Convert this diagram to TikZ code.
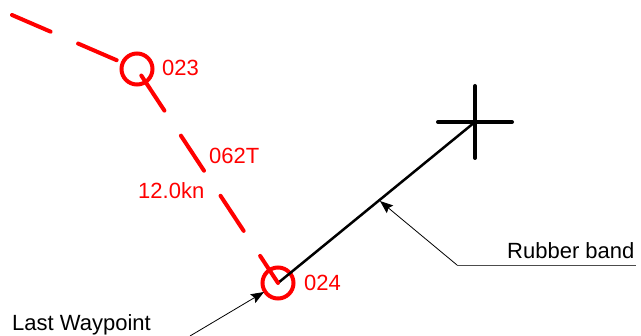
\documentclass[tikz,border=0pt]{standalone}
\usepackage{fontspec}
\setmainfont{Liberation Sans}
\usetikzlibrary{arrows.meta}
\definecolor{wpred}{RGB}{255,0,0}
\begin{document}
\begin{tikzpicture}[x=1pt,y=-1pt,
  wp/.style={circle,draw=wpred,line width=4pt,minimum size=31pt,inner sep=0pt},
  route/.style={draw=wpred,line width=4pt,line cap=round,dash pattern=on 42pt off 30pt},
  lbl/.style={anchor=base west,inner sep=0pt,font=\fontsize{22}{26}\selectfont},
  redlbl/.style={lbl,text=wpred},
  crossbar/.style={line width=4pt,line cap=round},
  leader/.style={line width=0.8pt,-{Stealth[length=13pt,width=10pt,inset=2pt]}}]
\useasboundingbox (0,0) rectangle (641,336);
% waypoints
\node[wp] (wp23) at (137,69) {};
\node[wp] (wp24) at (278,283) {};
\coordinate (start) at (12,15);
% rubber band
\coordinate (cur) at (475,122);
\draw[line width=2.5pt] (wp24.center) -- (cur);
\coordinate (cl) at (438,122);
\coordinate (cr) at (512,122);
\coordinate (ct) at (475,86);
\coordinate (cb) at (475,158);
\draw[crossbar] (cl) -- (cr);
\draw[crossbar] (ct) -- (cb);
% route
\draw[route] (start) -- (wp23.center) -- (wp24.center);
% labels
\node[redlbl] (t23) at (162,76) {023};
\node[redlbl] (t62) at (209,164) {062T};
\node[redlbl] (tkn) at (138,199) {12.0kn};
\node[redlbl] (t24) at (304,291) {024};
\node[lbl] (tlast) at (12,331) {Last Waypoint};
\node[lbl] (trb) at (507,259) {Rubber band};
% leaders
\coordinate (rbk) at (457,265);
\coordinate (rbe) at (636,265);
\coordinate (rbtip) at (380,201);
\draw[line width=0.8pt,black!70] (rbk) -- (rbe);
\draw[leader] (rbk) -- (rbtip);
\coordinate (lwk) at (190,336);
\coordinate (lwtip) at (264,292);
\draw[leader] (lwk) -- (lwtip);
\end{tikzpicture}
\end{document}
